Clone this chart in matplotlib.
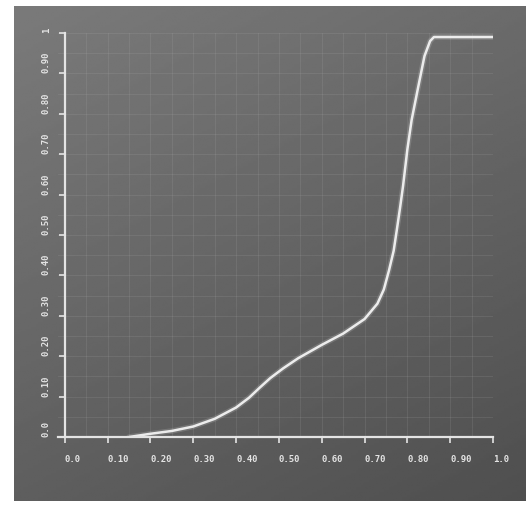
import numpy as np
import matplotlib
matplotlib.use("Agg")
import matplotlib.pyplot as plt
from matplotlib.ticker import MultipleLocator

# Values
x_values = [0.15, 0.20, 0.25, 0.30, 0.35, 0.40, 0.43, 0.455, 0.48, 0.51,
            0.545, 0.60, 0.65, 0.70, 0.73, 0.745, 0.757, 0.768, 0.775, 0.783,
            0.79, 0.80, 0.81, 0.826, 0.84, 0.853, 0.862, 1.00]
y_values = [0.000, 0.008, 0.015, 0.026, 0.045, 0.073, 0.097, 0.122, 0.146, 0.170,
            0.195, 0.228, 0.256, 0.292, 0.330, 0.365, 0.412, 0.461, 0.510, 0.568,
            0.622, 0.712, 0.785, 0.870, 0.943, 0.980, 0.990, 0.990]

x_ticks = [0.0, 0.1, 0.2, 0.3, 0.4, 0.5, 0.6, 0.7, 0.8, 0.9, 1.0]
x_tick_labels = ["0.0", "0.10", "0.20", "0.30", "0.40", "0.50",
                 "0.60", "0.70", "0.80", "0.90", "1.0"]
y_ticks = [0.0, 0.1, 0.2, 0.3, 0.4, 0.5, 0.6, 0.7, 0.8, 0.9, 1.0]
y_tick_labels = ["0.0", "0.10", "0.20", "0.30", "0.40", "0.50",
                 "0.60", "0.70", "0.80", "0.90", "1"]

W, H = 526, 505
fg = "#e4e4e4"

fig = plt.figure(figsize=(W / 100, H / 100), dpi=100)
fig.patch.set_facecolor("white")

# Gray screen behind the chart, lighter at top-left
bg = fig.add_axes([14 / W, 4 / H, 512 / W, 495 / H])
u = np.linspace(0, 1, 200)
v = np.linspace(0, 1, 200)
U, V = np.meshgrid(u, v)
shade = 0.48 - 0.06 * U - 0.11 * V
bg.imshow(shade, cmap="gray", vmin=0, vmax=1, aspect="auto",
          extent=[0, 1, 0, 1], origin="upper")
bg.axis("off")

# Plot area: x=0 at 65px, x=1 at 493px, y=0 at 437px, y=1 at 33px
ax = fig.add_axes([58 / W, (H - 437) / H, 435 / W, 404 / H])
ax.patch.set_alpha(0)
ax.set_xlim(-0.016, 1.0)
ax.set_ylim(0, 1.0)

ax.xaxis.set_minor_locator(MultipleLocator(0.05))
ax.yaxis.set_minor_locator(MultipleLocator(0.05))
ax.grid(True, which="both", color="#bbbbbb", alpha=0.16, linewidth=0.6)
ax.set_axisbelow(True)

for side in ["top", "right"]:
    ax.spines[side].set_visible(False)
ax.spines["left"].set_position(("data", 0))
for side in ["left", "bottom"]:
    ax.spines[side].set_color(fg)
    ax.spines[side].set_linewidth(1.6)

# Soft glow plus the main trace
ax.plot(x_values, y_values, color="white", linewidth=4, alpha=0.15,
        solid_capstyle="round", solid_joinstyle="round")
ax.plot(x_values, y_values, color="#ececec", linewidth=1.8,
        solid_capstyle="round", solid_joinstyle="round")

ax.set_xticks(x_ticks)
ax.set_xticklabels(x_tick_labels, ha="left")
ax.set_yticks(y_ticks)
ax.set_yticklabels(y_tick_labels)

ax.tick_params(which="major", colors=fg, width=1.2, length=4)
ax.tick_params(which="minor", length=0)
ax.tick_params(axis="x", pad=9)
ax.tick_params(axis="y", pad=6)

for label in ax.get_xticklabels() + ax.get_yticklabels():
    label.set_fontfamily("DejaVu Sans Mono")
    label.set_fontweight("bold")
    label.set_fontsize(6.5)
    label.set_color(fg)
for label in ax.get_yticklabels():
    label.set_rotation(90)
    label.set_va("bottom")

fig.savefig("out.png", dpi=100, facecolor=fig.get_facecolor())
